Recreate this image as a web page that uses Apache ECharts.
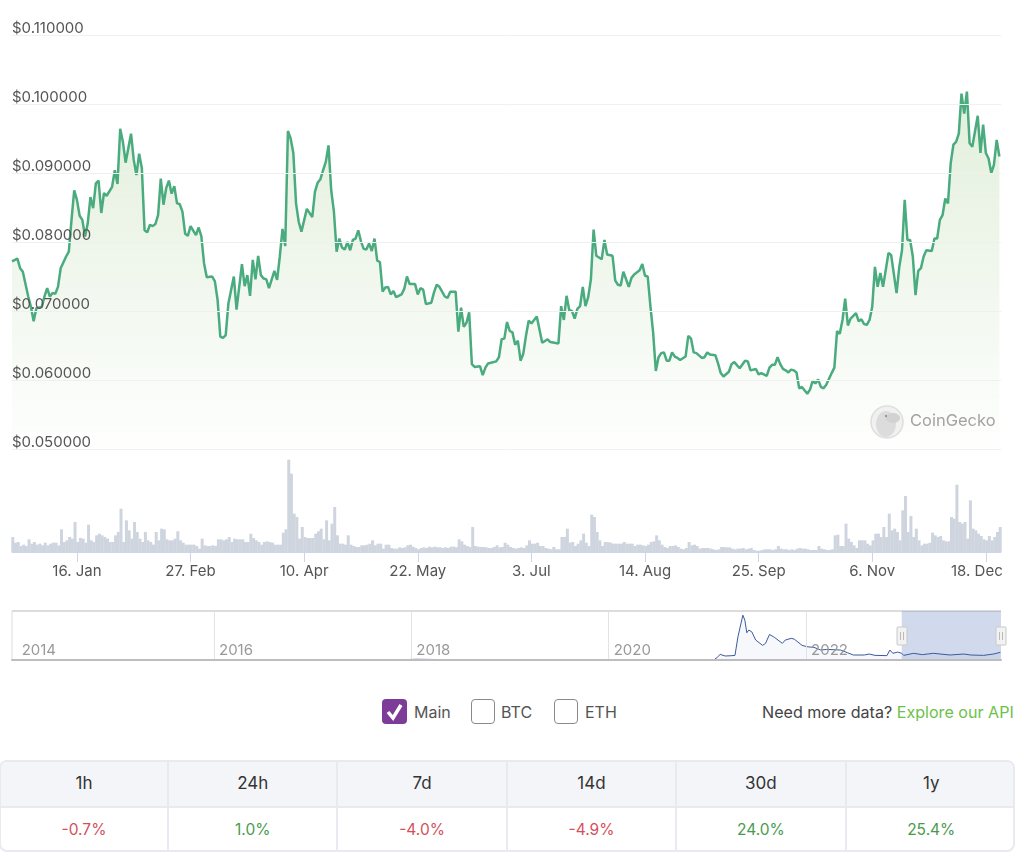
<!DOCTYPE html>
<html>
<head>
<meta charset="utf-8">
<title>Price chart</title>
<script src="https://cdn.jsdelivr.net/npm/echarts@6/dist/echarts.min.js"></script>
<style>
    html, body { margin: 0; padding: 0; background: #fff; font-family: Inter, "Noto Sans", sans-serif; }
    #page { position: relative; width: 1024px; height: 868px; overflow: hidden; }
    #chart { position: absolute; left: 0; top: 0; width: 1024px; height: 680px; }
    .box { position: absolute; top: 699px; width: 22px; height: 23px; border: 1px solid #8a8a8a; border-radius: 4px; background: #fff; }
    .box.on { left: 382px; width: 25px; height: 25px; border: 0; background: #7d3c98; }
    .lbl { position: absolute; top: 702px; font-size: 16px; line-height: 20px; color: #555; }
    #more { position: absolute; top: 702px; left: 762px; font-size: 16.1px; line-height: 20px; color: #444; white-space: nowrap; }
    #more span { color: #6cc24a; }
    #stats { position: absolute; left: -1px; top: 760px; width: 1016px; height: 92px; box-sizing: border-box; border: 2px solid #e8eaef; border-radius: 8px; overflow: hidden; display: grid; grid-template-columns: 168px repeat(5, 169.4px); grid-template-rows: 46px 44px; }
    #stats div { display: flex; align-items: center; justify-content: center; border-right: 2px solid #e8eaef; box-sizing: border-box; }
    #stats div:nth-child(6n) { border-right: 0; }
    #stats .head { background: #f3f5f9; border-bottom: 2px solid #e8eaef; color: #333; font-size: 17px; padding-bottom: 2px; }
    #stats .val { font-size: 15.5px; padding-bottom: 2px; }
    #stats .up { color: #4a9a4e; }
    #stats .down { color: #d3505a; }
</style>
</head>
<body>
<div id="page">
    <div id="chart"></div>
    <div class="box on">
        <svg width="25" height="25"><path d="M6 13 L11 19 L19 6" fill="none" stroke="#fff" stroke-width="3.5"/></svg>
    </div>
    <div class="lbl" style="left:414px">Main</div>
    <div class="box" style="left:471px"></div>
    <div class="lbl" style="left:501px">BTC</div>
    <div class="box" style="left:554px"></div>
    <div class="lbl" style="left:585px">ETH</div>
    <div id="more">Need more data? <span>Explore our API</span></div>
    <div id="stats"></div>
</div>
<script>
    // price line: day number since start of window, and price
    var priceDays = [0,2,3,4,6,7,8,9,11,12,13,14,15,16,17,18,20,21,22,23,24,25,26,27,28,29,30,31,32,33,34,35,37,38,39,40,41,42,44,45,46,47,48,49,50,51,52,53,54,55,56,57,58,59,60,61,62,63,64,65,66,68,69,70,71,72,74,75,76,77,78,79,80,82,83,85,86,87,88,89,90,91,92,93,94,95,97,98,99,100,101,102,103,104,105,106,107,109,111,112,113,114,115,116,117,118,119,120,121,
        122,123,124,125,126,127,128,129,130,131,132,133,134,135,136,137,138,139,140,141,142,144,145,146,147,149,150,151,152,153,155,156,157,158,160,161,162,164,165,166,167,168,169,170,171,173,174,175,176,179,180,181,182,183,184,185,186,187,188,189,190,191,192,194,196,198,199,202,203,204,205,206,207,208,209,210,211,212,213,214,215,216,218,219,220,222,223,224,225,226,228,229,230,232,233,234,235,236,237,238,239,240,241,242,243,244,245,246,
        247,249,250,251,252,253,255,256,257,258,260,261,262,263,265,266,267,269,271,272,273,275,276,277,279,280,281,282,283,284,285,286,287,288,289,290,291,292,294,295,296,297,298,299,300,301,303,304,305,306,307,308,309,310,312,313,314,315,316,317,318,319,320,321,322,324,325,327,328,329,330,331,332,333,334,335,336,337,338,340,341,342,343,344,345,346,347,348,349,350,351,352,353,354,355,357,358,359,360,361,362,363,364,365];
    var priceValues = [.0772,.0776,.0762,.0757,.0721,.0706,.0685,.0704,.0706,.0721,.0733,.0721,.0726,.0725,.0735,.0762,.0779,.0786,.0832,.0875,.0861,.0838,.0832,.0808,.0827,.0865,.0849,.0885,.0889,.0842,.0871,.0867,.0880,.0904,.0884,.0964,.0945,.0915,.0957,.0919,.0897,.0928,.0907,.0817,.0814,.0825,.0823,.0826,.0839,.0892,.0854,.0878,.0889,.0870,.0881,.0856,.0855,.0844,.0812,.0809,.0823,.0810,.0821,.0808,.0769,.0749,.0750,.0743,.0716,.0663,.0661,.0665,.0711,.0750,.0702,.0768,.0736,.0752,.0722,.0774,.0746,.0780,.0752,.0747,.0746,.0733,.0758,.0745,.0779,.0819,.0794,.0961,.0950,.0929,.0856,.0829,.0815,.0848,.0836,.0873,.0886,.0891,.0904,.0916,.0940,.0875,.0844,.0786,.0805,
        .0792,.0789,.0800,.0788,.0803,.0805,.0817,.0801,.0790,.0789,.0798,.0787,.0805,.0773,.0771,.0728,.0734,.0735,.0724,.0729,.0720,.0724,.0732,.0750,.0739,.0739,.0724,.0733,.0731,.0710,.0712,.0727,.0738,.0735,.0721,.0719,.0728,.0728,.0670,.0705,.0677,.0683,.0698,.0623,.0619,.0620,.0607,.0618,.0624,.0627,.0633,.0659,.0660,.0684,.0671,.0669,.0651,.0657,.0628,.0638,.0664,.0686,.0682,.0692,.0654,.0659,.0655,.0653,.0707,.0687,.0722,.0701,.0700,.0689,.0703,.0707,.0735,.0707,.0720,.0746,.0818,.0780,.0775,.0803,.0782,.0780,.0744,.0738,.0737,.0757,.0735,.0748,.0753,.0759,.0768,.0751,.0750,.0707,.0669,.0613,.0633,.0639,.0640,.0628,.0628,.0640,.0634,.0632,
        .0629,.0634,.0664,.0660,.0640,.0639,.0632,.0633,.0640,.0637,.0636,.0624,.0610,.0605,.0612,.0623,.0626,.0617,.0628,.0627,.0614,.0616,.0608,.0610,.0606,.0618,.0622,.0622,.0633,.0623,.0616,.0614,.0611,.0615,.0614,.0611,.0588,.0590,.0580,.0586,.0599,.0595,.0601,.0590,.0588,.0593,.0610,.0618,.0671,.0667,.0687,.0718,.0679,.0689,.0697,.0685,.0688,.0681,.0680,.0687,.0706,.0764,.0735,.0755,.0735,.0784,.0781,.0726,.0764,.0788,.0861,.0803,.0803,.0779,.0723,.0758,.0762,.0779,.0788,.0787,.0805,.0805,.0832,.0839,.0863,.0856,.0914,.0941,.0945,.0957,.1015,.0986,.1018,.0943,.0938,.0983,.0929,.0970,.0929,.0921,.0900,.0912,.0948,.0924];

    // volume bars, one per day, same window
    var volumes = [45,28,30,18,22,18,38,25,30,22,25,20,28,20,25,28,28,20,
        68,30,35,45,40,90,30,42,40,28,82,35,30,50,55,50,45,40,30,30,50,60,130,30,95,65,40,90,60,40,30,60,35,30,22,60,35,70,68,38,35,35,40,62,35,28,22,22,22,22,18,10,40,20,18,18,20,18,38,38,35,38,45,30,40,38,38,38,30,30,55,42,35,30,22,30,32,30,28,22,22,22,58,68,277,235,115,105,40,75,45,42,42,42,55,62,70,38,95,35,85,135,50,25,25,22,50,22,18,15,15,20,20,22,25,35,20,25,25,10,
        22,22,12,10,10,14,12,14,20,22,16,12,8,12,14,12,16,14,16,14,14,12,14,12,16,16,14,38,32,22,18,15,75,18,16,15,15,14,12,12,15,20,14,15,28,22,15,
        12,10,12,14,12,20,35,25,25,28,18,18,12,10,8,15,8,8,45,45,70,28,30,18,25,35,55,28,18,112,105,60,35,18,30,30,28,25,25,25,25,30,25,25,25,18,22,22,20,18,22,30,32,50,35,22,15,12,18,18,20,15,10,
        8,12,30,20,22,18,10,12,12,12,10,8,6,8,15,15,14,14,10,8,10,10,12,8,10,12,6,4,4,6,8,8,8,6,8,18,10,8,8,6,8,6,10,12,10,10,8,6,6,6,18,10,8,6,6,8,
        50,52,18,18,85,40,30,20,12,35,35,35,25,20,35,55,55,45,75,45,115,65,70,60,35,125,168,60,108,45,70,35,20,25,25,28,58,50,45,48,35,32,32,105,100,202,90,85,90,40,155,70,65,55,48,38,35,48,35,45,60,75];

    var dayTicks = [24, 66, 108, 150, 192, 234, 276, 318, 360];
    var dayTickLabels = ['16. Jan', '27. Feb', '10. Apr', '22. May', '3. Jul', '14. Aug', '25. Sep', '6. Nov', '18. Dec'];

    // navigator line, full history
    var navYears = [2017.3,2017.9,2018.05,2018.3,2019,2020,2020.93,2021.07,2021.10,2021.13,2021.15,2021.18,2021.24,2021.28,2021.31,2021.33,2021.36,2021.38,2021.40,2021.42,2021.45,2021.49,2021.51,2021.56,2021.59,2021.63,2021.68,2021.76,2021.79,2021.85,2021.88,2021.96,2022.01,2022.08,2022.15,2022.21,2022.35,2022.42,2022.48,2022.59,2022.64,2022.70,2022.82,2022.85,2022.88,2022.90,2022.93,2022.97,2022.99,2023.09,2023.18,2023.29,2023.46,2023.60,2023.67,2023.80,2023.90,2023.97];
    var navPrices = [.002,.003,.008,.005,.003,.002,.004,.004,.030,.063,.048,.045,.048,.052,.261,.280,.503,.447,.306,.336,.317,.224,.224,.164,.187,.287,.254,.187,.224,.243,.235,.164,.149,.142,.112,.119,.112,.082,.056,.056,.067,.052,.049,.112,.075,.075,.089,.075,.052,.075,.060,.075,.056,.067,.056,.052,.067,.086];
    var navYearLabels = [2014, 2016, 2018, 2020, 2022];
    var navYearLines = [2016, 2018, 2020, 2022];

    var changeLabels = ['1h', '24h', '7d', '14d', '30d', '1y'];
    var changeValues = [-0.7, 1.0, -4.0, -4.9, 24.0, 25.4];

    var fontName = 'Inter, "Noto Sans", sans-serif';

    var statsHtml = '';
    changeLabels.forEach(function (t) {
        statsHtml += '<div class="head">' + t + '</div>';
    });
    changeValues.forEach(function (v) {
        statsHtml += '<div class="val ' + (v < 0 ? 'down' : 'up') + '">' + v.toFixed(1) + '%</div>';
    });
    document.getElementById('stats').innerHTML = statsHtml;

    function zip(a, b) {
        return a.map(function (x, i) { return [x, b[i]]; });
    }

    function handle(x) {
        return {
            type: 'group',
            children: [
                { type: 'rect', shape: { x: x - 5, y: 627, width: 10, height: 18, r: 1 }, style: { fill: '#f2f2f2', stroke: '#c8c8c8', lineWidth: 1 }, z: 20 },
                { type: 'line', shape: { x1: x - 1.5, y1: 632, x2: x - 1.5, y2: 640 }, style: { stroke: '#bbb', lineWidth: 1 }, z: 21 },
                { type: 'line', shape: { x1: x + 1.5, y1: 632, x2: x + 1.5, y2: 640 }, style: { stroke: '#bbb', lineWidth: 1 }, z: 21 }
            ]
        };
    }

    var myChart = echarts.init(document.getElementById('chart'));
    var option = {
        animation: false,
        textStyle: { fontFamily: fontName },
        grid: [
            { left: 12, top: 35, width: 989, height: 414 },
            { left: 12, top: 449, width: 989, height: 103 },
            { left: 12, top: 611, width: 989, height: 49, show: true, borderWidth: 0, backgroundColor: 'transparent' }
        ],
        xAxis: [
            { type: 'value', gridIndex: 0, min: 0, max: 365.6, show: false },
            {
                type: 'value', gridIndex: 1, min: 0, max: 365.6,
                splitLine: { show: false },
                axisLine: { show: true, lineStyle: { color: '#ccd6eb' } },
                axisTick: { show: true, length: 10, customValues: dayTicks, lineStyle: { color: '#ccd6eb' } },
                axisLabel: {
                    customValues: dayTicks, margin: 12, fontSize: 15, color: '#555',
                    formatter: function (v) {
                        var t = dayTickLabels[dayTicks.indexOf(v)];
                        return v === 360 ? '{end|' + t + '}' : t;
                    },
                    rich: { end: { fontSize: 15, color: '#555', padding: [0, 18, 0, 0] } }
                }
            },
            {
                type: 'value', gridIndex: 2, min: 2013.953, max: 2023.976, z: 3,
                axisLine: { show: true, lineStyle: { color: '#bdbdbd', width: 2 } },
                axisTick: { show: false, customValues: navYearLines },
                splitLine: { show: true, lineStyle: { color: '#e3e3e3', width: 1 } },
                axisLabel: {
                    inside: true, customValues: navYearLabels, margin: 2, fontSize: 15, color: '#999', align: 'left', padding: [0, 0, 0, 5],
                    formatter: function (v) { return String(v); }
                }
            }
        ],
        yAxis: [
            {
                type: 'value', gridIndex: 0, min: 0.05, max: 0.11, interval: 0.01,
                axisLine: { show: false }, axisTick: { show: false },
                splitLine: { lineStyle: { color: '#f0f0f0', width: 1 } },
                axisLabel: {
                    inside: true, margin: 0, verticalAlign: 'bottom', fontSize: 15, color: '#555', lineHeight: 14,
                    formatter: function (v) { return '$' + v.toFixed(6); }
                },
                z: 5
            },
            { type: 'value', gridIndex: 1, min: 0, max: 309, show: false },
            { type: 'value', gridIndex: 2, min: 0, max: 0.55, show: false }
        ],
        series: [
            {
                type: 'line', xAxisIndex: 0, yAxisIndex: 0,
                data: zip(priceDays, priceValues),
                symbol: 'none', z: 3,
                lineStyle: { color: '#4aab7f', width: 2.5 },
                areaStyle: {
                    origin: 'start',
                    color: new echarts.graphic.LinearGradient(0, 0, 0, 1, [
                        { offset: 0, color: 'rgba(120,180,90,0.30)' },
                        { offset: 1, color: 'rgba(120,180,90,0.01)' }
                    ])
                }
            },
            {
                type: 'bar', xAxisIndex: 1, yAxisIndex: 1,
                data: volumes.map(function (v, i) { return [i + 0.3, v]; }),
                barWidth: 3,
                itemStyle: { color: '#cfd5de' }
            },
            {
                type: 'line', xAxisIndex: 2, yAxisIndex: 2,
                data: zip(navYears, navPrices),
                symbol: 'none', z: 1,
                lineStyle: { color: '#3d5a9e', width: 1 },
                areaStyle: { origin: 'start', color: 'rgba(51,92,173,0.06)' },
                markArea: {
                    silent: true,
                    itemStyle: { color: 'rgba(102,133,194,0.3)' },
                    data: [[{ xAxis: 2022.97, yAxis: 0 }, { xAxis: 2023.976, yAxis: 0.55 }]]
                }
            }
        ],
        graphic: [
            { type: 'line', shape: { x1: 12, y1: 611, x2: 1001, y2: 611 }, style: { stroke: '#dcdcdc', lineWidth: 2 } },
            { type: 'line', shape: { x1: 12, y1: 611, x2: 12, y2: 660 }, style: { stroke: '#dcdcdc', lineWidth: 1 } },
            handle(902),
            handle(1001),
            // CoinGecko mark
            { type: 'circle', shape: { cx: 887, cy: 422, r: 16 }, style: { fill: '#f1f1f1', stroke: '#dedede', lineWidth: 1.5 }, z: 10 },
            { type: 'ellipse', shape: { cx: 886, cy: 424, rx: 10, ry: 13 }, style: { fill: '#dcdcdc' }, z: 11 },
            { type: 'ellipse', shape: { cx: 893, cy: 418, rx: 7, ry: 5 }, style: { fill: '#d2d2d2' }, z: 11 },
            { type: 'circle', shape: { cx: 886, cy: 416, r: 1.2 }, style: { fill: '#999' }, z: 12 },
            { type: 'text', x: 910, y: 413, style: { text: 'CoinGecko', fontSize: 16.5, fontFamily: fontName, fill: '#a3a3a3' }, z: 10 }
        ]
    };
    myChart.setOption(option);
</script>
</body>
</html>
